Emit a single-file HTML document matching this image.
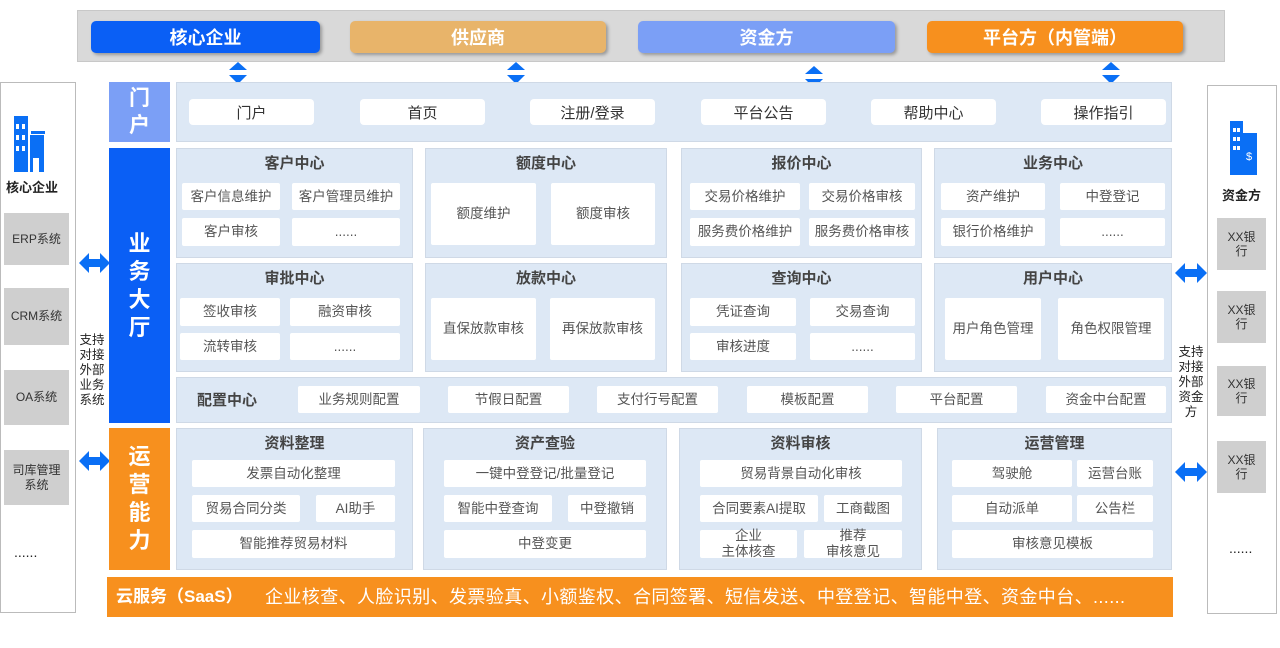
<!DOCTYPE html><html><head><meta charset="utf-8"><style>
body{margin:0;width:1280px;height:648px;background:#fff;position:relative;overflow:hidden;font-family:"Liberation Sans","Noto Sans CJK SC",sans-serif}
div{position:absolute;box-sizing:border-box}
.c{display:flex;align-items:center;justify-content:center;text-align:center}
.tb{border-radius:5px;color:#fff;font-size:18px;font-weight:bold;box-shadow:2px 2px 3px rgba(0,0,0,.3)}
.m{background:#dde8f5;border:1px solid #cfd9e6}
.w{background:#fff;color:#555;font-size:13.5px;line-height:1.15;border-radius:2px}
.p{background:#fff;color:#333;font-size:15px;border-radius:4px}
.t{color:#444;font-size:15px;font-weight:bold;text-align:center;width:100%}
.g{background:#cfcfcf;color:#333;font-size:12px;line-height:1.2}
.vt{color:#fff;font-weight:bold;font-size:21px;line-height:27px;flex-direction:column}
.sm{font-size:12.5px;color:#222;line-height:15px;text-align:center}
</style></head><body>
<div style="left:77px;top:10px;width:1148px;height:52px;background:#d9d9d9;border:1px solid #c8c8c8"></div>
<div class="c tb" style="left:91px;top:21px;width:229px;height:32px;background:#0a5ff5">核心企业</div>
<div class="c tb" style="left:350px;top:21px;width:256px;height:32px;background:#e8b46a">供应商</div>
<div class="c tb" style="left:638px;top:21px;width:257px;height:32px;background:#7b9ff6">资金方</div>
<div class="c tb" style="left:927px;top:21px;width:256px;height:32px;background:#f7901e">平台方（内管端）</div>
<svg style="position:absolute;left:0;top:0" width="1280" height="648">
<g fill="#0a6ff5">
<polygon points="229,70 247,70 238,62"/><polygon points="229,75 247,75 238,84"/>
<polygon points="507,70 525,70 516,62"/><polygon points="507,75 525,75 516,84"/>
<polygon points="805,74 823,74 814,66"/><polygon points="805,79 823,79 814,88"/>
<polygon points="1102,70 1120,70 1111,62"/><polygon points="1102,75 1120,75 1111,84"/>
<polygon points="79,263 89,253 89,259 100,259 100,253 110,263 100,273 100,267 89,267 89,273"/>
<polygon points="79,461 89,451 89,457 100,457 100,451 110,461 100,471 100,465 89,465 89,471"/>
<polygon points="1175,273 1185,263 1185,269 1197,269 1197,263 1207,273 1197,283 1197,277 1185,277 1185,283"/>
<polygon points="1175,472 1185,462 1185,468 1197,468 1197,462 1207,472 1197,482 1197,476 1185,476 1185,482"/>
<rect x="14" y="116" width="14" height="56"/><rect x="30" y="135" width="14" height="37"/><rect x="31" y="131" width="14" height="3"/>
<rect x="1230" y="121" width="13" height="54"/><rect x="1243" y="133" width="14" height="42"/>
</g>
<g fill="#fff"><rect x="16" y="124" width="3" height="5"/><rect x="22" y="124" width="3" height="5"/><rect x="16" y="135" width="3" height="5"/><rect x="22" y="135" width="3" height="5"/><rect x="16" y="146" width="3" height="5"/><rect x="22" y="146" width="3" height="5"/><rect x="33" y="158" width="6" height="14"/>
<rect x="1233" y="128" width="3" height="4"/><rect x="1237" y="128" width="3" height="4"/><rect x="1233" y="137" width="3" height="4"/><rect x="1237" y="137" width="3" height="4"/><rect x="1233" y="146" width="3" height="4"/><rect x="1237" y="146" width="3" height="4"/></g>
<text x="1246" y="160" fill="#fff" font-size="11" font-family="Liberation Sans">$</text>
</svg>
<div style="left:0;top:82px;width:76px;height:531px;border:1px solid #bbb"></div>
<div style="left:6px;top:177px;font-size:13px;font-weight:bold;color:#222">核心企业</div>
<div class="c g" style="left:4px;top:213px;width:65px;height:52px">ERP系统</div>
<div class="c g" style="left:4px;top:288px;width:65px;height:57px">CRM系统</div>
<div class="c g" style="left:4px;top:370px;width:65px;height:55px">OA系统</div>
<div class="c g" style="left:4px;top:450px;width:65px;height:55px">司库管理<br>系统</div>
<div style="left:14px;top:544px;font-size:14px;color:#222">......</div>
<div class="sm" style="left:77px;top:333px;width:30px">支持对接外部业务系统</div>
<div style="left:1207px;top:85px;width:70px;height:529px;border:1px solid #bbb"></div>
<div style="left:1222px;top:185px;font-size:13px;font-weight:bold;color:#222">资金方</div>
<div class="c g" style="left:1217px;top:218px;width:49px;height:52px">XX银<br>行</div>
<div class="c g" style="left:1217px;top:291px;width:49px;height:52px">XX银<br>行</div>
<div class="c g" style="left:1217px;top:366px;width:49px;height:50px">XX银<br>行</div>
<div class="c g" style="left:1217px;top:441px;width:49px;height:52px">XX银<br>行</div>
<div style="left:1229px;top:540px;font-size:14px;color:#222">......</div>
<div class="sm" style="left:1176px;top:345px;width:30px">支持对接外部资金方</div>
<div class="c vt" style="left:109px;top:82px;width:61px;height:60px;background:#7b9ff6">门<br>户</div>
<div class="c vt" style="left:109px;top:148px;width:61px;height:275px;background:#0a5ff5;font-size:22px;line-height:28px">业<br>务<br>大<br>厅</div>
<div class="c vt" style="left:109px;top:428px;width:61px;height:142px;background:#f7901e;font-size:22px;line-height:28px">运<br>营<br>能<br>力</div>
<div class="m" style="left:176px;top:82px;width:996px;height:60px"></div>
<div class="c p" style="left:189px;top:99px;width:125px;height:26px">门户</div>
<div class="c p" style="left:360px;top:99px;width:125px;height:26px">首页</div>
<div class="c p" style="left:530px;top:99px;width:125px;height:26px">注册/登录</div>
<div class="c p" style="left:701px;top:99px;width:125px;height:26px">平台公告</div>
<div class="c p" style="left:871px;top:99px;width:125px;height:26px">帮助中心</div>
<div class="c p" style="left:1041px;top:99px;width:125px;height:26px">操作指引</div>
<div class="m" style="left:176px;top:148px;width:237px;height:110px"><div class="t" style="top:3px">客户中心</div></div>
<div class="c w" style="left:182px;top:183px;width:98px;height:27px">客户信息维护</div>
<div class="c w" style="left:292px;top:183px;width:108px;height:27px">客户管理员维护</div>
<div class="c w" style="left:182px;top:218px;width:98px;height:28px">客户审核</div>
<div class="c w" style="left:292px;top:218px;width:108px;height:28px">......</div>
<div class="m" style="left:425px;top:148px;width:242px;height:110px"><div class="t" style="top:3px">额度中心</div></div>
<div class="c w" style="left:431px;top:183px;width:105px;height:62px">额度维护</div>
<div class="c w" style="left:551px;top:183px;width:104px;height:62px">额度审核</div>
<div class="m" style="left:681px;top:148px;width:241px;height:110px"><div class="t" style="top:3px">报价中心</div></div>
<div class="c w" style="left:690px;top:183px;width:110px;height:27px">交易价格维护</div>
<div class="c w" style="left:809px;top:183px;width:106px;height:27px">交易价格审核</div>
<div class="c w" style="left:690px;top:218px;width:110px;height:28px">服务费价格维护</div>
<div class="c w" style="left:809px;top:218px;width:106px;height:28px">服务费价格审核</div>
<div class="m" style="left:934px;top:148px;width:238px;height:110px"><div class="t" style="top:3px">业务中心</div></div>
<div class="c w" style="left:941px;top:183px;width:104px;height:27px">资产维护</div>
<div class="c w" style="left:1060px;top:183px;width:105px;height:27px">中登登记</div>
<div class="c w" style="left:941px;top:218px;width:104px;height:28px">银行价格维护</div>
<div class="c w" style="left:1060px;top:218px;width:105px;height:28px">......</div>
<div class="m" style="left:176px;top:263px;width:237px;height:109px"><div class="t" style="top:3px">审批中心</div></div>
<div class="c w" style="left:180px;top:298px;width:100px;height:28px">签收审核</div>
<div class="c w" style="left:290px;top:298px;width:110px;height:28px">融资审核</div>
<div class="c w" style="left:180px;top:333px;width:100px;height:27px">流转审核</div>
<div class="c w" style="left:290px;top:333px;width:110px;height:27px">......</div>
<div class="m" style="left:425px;top:263px;width:242px;height:109px"><div class="t" style="top:3px">放款中心</div></div>
<div class="c w" style="left:431px;top:298px;width:105px;height:62px">直保放款审核</div>
<div class="c w" style="left:550px;top:298px;width:105px;height:62px">再保放款审核</div>
<div class="m" style="left:681px;top:263px;width:241px;height:109px"><div class="t" style="top:3px">查询中心</div></div>
<div class="c w" style="left:690px;top:298px;width:106px;height:28px">凭证查询</div>
<div class="c w" style="left:810px;top:298px;width:105px;height:28px">交易查询</div>
<div class="c w" style="left:690px;top:333px;width:106px;height:27px">审核进度</div>
<div class="c w" style="left:810px;top:333px;width:105px;height:27px">......</div>
<div class="m" style="left:934px;top:263px;width:238px;height:109px"><div class="t" style="top:3px">用户中心</div></div>
<div class="c w" style="left:945px;top:298px;width:96px;height:62px">用户角色管理</div>
<div class="c w" style="left:1058px;top:298px;width:106px;height:62px">角色权限管理</div>
<div class="m" style="left:176px;top:377px;width:996px;height:46px"></div>
<div style="left:197px;top:389px;font-size:15px;font-weight:bold;color:#444">配置中心</div>
<div class="c w" style="left:298px;top:386px;width:122px;height:27px">业务规则配置</div>
<div class="c w" style="left:448px;top:386px;width:121px;height:27px">节假日配置</div>
<div class="c w" style="left:597px;top:386px;width:121px;height:27px">支付行号配置</div>
<div class="c w" style="left:747px;top:386px;width:121px;height:27px">模板配置</div>
<div class="c w" style="left:896px;top:386px;width:121px;height:27px">平台配置</div>
<div class="c w" style="left:1046px;top:386px;width:120px;height:27px">资金中台配置</div>
<div class="m" style="left:176px;top:428px;width:237px;height:142px"><div class="t" style="top:3px">资料整理</div></div>
<div class="c w" style="left:192px;top:460px;width:203px;height:27px">发票自动化整理</div>
<div class="c w" style="left:192px;top:495px;width:108px;height:27px">贸易合同分类</div>
<div class="c w" style="left:316px;top:495px;width:79px;height:27px">AI助手</div>
<div class="c w" style="left:192px;top:530px;width:203px;height:28px">智能推荐贸易材料</div>
<div class="m" style="left:423px;top:428px;width:244px;height:142px"><div class="t" style="top:3px">资产查验</div></div>
<div class="c w" style="left:444px;top:460px;width:202px;height:27px">一键中登登记/批量登记</div>
<div class="c w" style="left:444px;top:495px;width:108px;height:27px">智能中登查询</div>
<div class="c w" style="left:568px;top:495px;width:78px;height:27px">中登撤销</div>
<div class="c w" style="left:444px;top:530px;width:202px;height:28px">中登变更</div>
<div class="m" style="left:679px;top:428px;width:243px;height:142px"><div class="t" style="top:3px">资料审核</div></div>
<div class="c w" style="left:700px;top:460px;width:202px;height:27px">贸易背景自动化审核</div>
<div class="c w" style="left:700px;top:495px;width:118px;height:27px">合同要素AI提取</div>
<div class="c w" style="left:824px;top:495px;width:78px;height:27px">工商截图</div>
<div class="c w" style="left:700px;top:530px;width:97px;height:28px">企业<br>主体核查</div>
<div class="c w" style="left:804px;top:530px;width:98px;height:28px">推荐<br>审核意见</div>
<div class="m" style="left:937px;top:428px;width:235px;height:142px"><div class="t" style="top:3px">运营管理</div></div>
<div class="c w" style="left:952px;top:460px;width:120px;height:27px">驾驶舱</div>
<div class="c w" style="left:1077px;top:460px;width:76px;height:27px">运营台账</div>
<div class="c w" style="left:952px;top:495px;width:120px;height:27px">自动派单</div>
<div class="c w" style="left:1077px;top:495px;width:76px;height:27px">公告栏</div>
<div class="c w" style="left:952px;top:530px;width:201px;height:28px">审核意见模板</div>
<div style="left:107px;top:577px;width:1066px;height:40px;background:#f7901e"></div>
<div style="left:116px;top:577px;height:40px;color:#fff;font-size:17px;line-height:40px;white-space:nowrap;font-weight:bold">云服务（SaaS）</div>
<div style="left:265px;top:577px;height:40px;color:#fff;font-size:18px;line-height:40px;white-space:nowrap;letter-spacing:0.4px">企业核查、人脸识别、发票验真、小额鉴权、合同签署、短信发送、中登登记、智能中登、资金中台、......</div>
</body></html>
